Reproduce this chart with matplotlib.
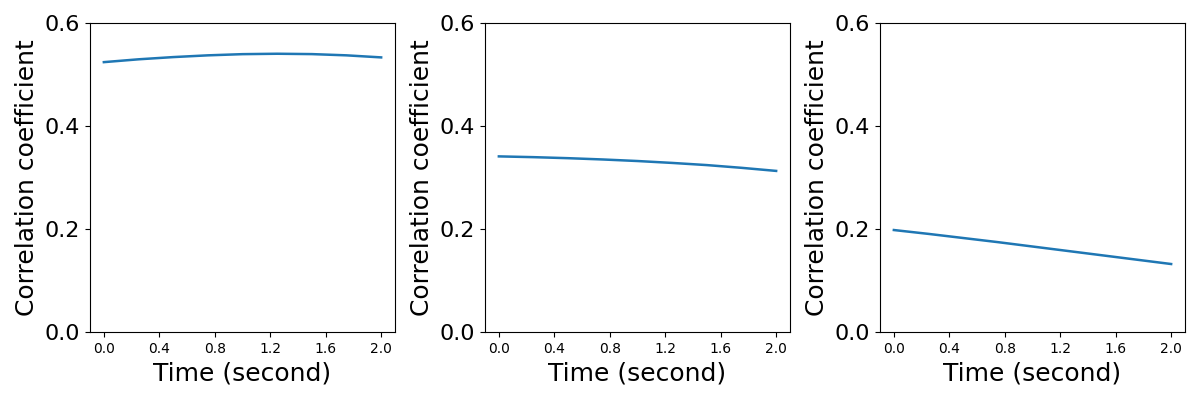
import matplotlib
matplotlib.use("Agg")
import matplotlib.pyplot as plt
import numpy as np

time_s = [0.0, 0.25, 0.5, 0.75, 1.0, 1.25, 1.5, 1.75, 2.0]
corr_1 = [0.524, 0.5295, 0.5338, 0.5372, 0.5395, 0.5403, 0.5396, 0.5372, 0.5332]
corr_2 = [0.341, 0.3395, 0.3375, 0.3350, 0.3320, 0.3283, 0.3241, 0.3188, 0.3128]
corr_3 = [0.198, 0.1905, 0.1825, 0.1745, 0.166, 0.1575, 0.149, 0.1405, 0.132]
xticks = [0.0, 0.4, 0.8, 1.2, 1.6, 2.0]
yticks = [0.0, 0.2, 0.4, 0.6]

fig, axes = plt.subplots(1, 3, figsize=(12, 4), dpi=100)
for ax, series in zip(axes, [corr_1, corr_2, corr_3]):
    ax.plot(time_s, series, color="#1f77b4", linewidth=1.8)
    ax.set_ylim(0, 0.6)
    ax.set_xlim(-0.1, 2.1)
    ax.set_xticks(xticks)
    ax.set_xticklabels([f"{t:.1f}" for t in xticks], fontsize=10)
    ax.set_yticks(yticks)
    ax.set_yticklabels([f"{t:.1f}" for t in yticks], fontsize=16)
    ax.set_xlabel("Time (second)", fontsize=18)
    ax.set_ylabel("Correlation coefficient", fontsize=18)
fig.subplots_adjust(left=0.075, right=0.9875, top=0.9425, bottom=0.17, wspace=0.295)
fig.savefig("out.png")
